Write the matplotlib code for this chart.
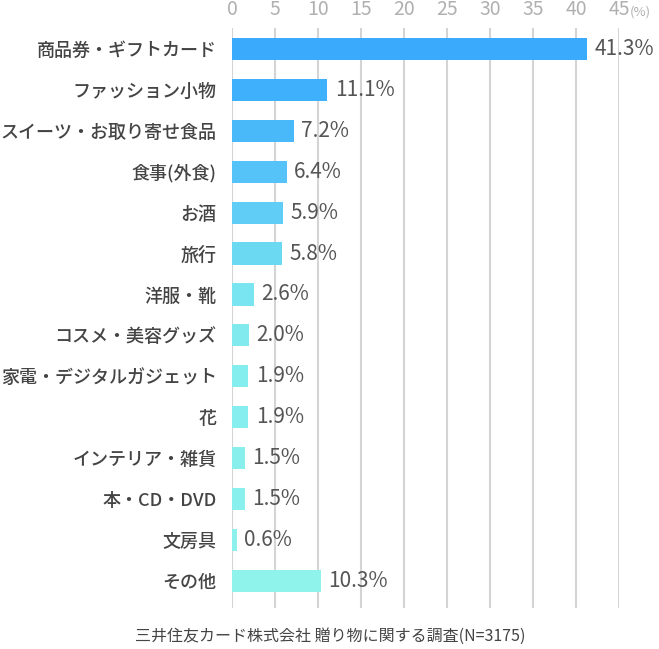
import matplotlib.pyplot as plt

plt.rcParams['font.family'] = ['Noto Sans CJK JP', 'DejaVu Sans']

# data
categories = [
    '商品券・ギフトカード', 'ファッション小物', 'スイーツ・お取り寄せ食品', '食事(外食)',
    'お酒', '旅行', '洋服・靴', 'コスメ・美容グッズ', '家電・デジタルガジェット',
    '花', 'インテリア・雑貨', '本・CD・DVD', '文房具', 'その他',
]
values = [41.3, 11.1, 7.2, 6.4, 5.9, 5.8, 2.6, 2.0, 1.9, 1.9, 1.5, 1.5, 0.6, 10.3]
bar_colors = [
    '#3aaafd', '#3fb0fc', '#4ab9fa', '#55c2f8', '#5fcdf5', '#6bd9f2', '#78e5f0',
    '#80eaef', '#84edee', '#86eeee', '#88efed', '#8af0ed', '#8cf1ed', '#8ff3ec',
]
xticks = list(range(0, 50, 5))
source = '三井住友カード株式会社 贈り物に関する調査(N=3175)'

fig = plt.figure(figsize=(6.59, 6.49), dpi=100)
ax = fig.add_axes([232 / 659, 41 / 649, 387 / 659, 580 / 649])

ypos = list(range(len(categories)))
ax.barh(ypos, values, height=0.54, color=bar_colors, zorder=2)

for y, v in zip(ypos, values):
    ax.text(v + 0.85, y, f'{v:.1f}%', va='center', ha='left',
            fontsize=15, color='#555555')

ax.set_xlim(0, 45)
ax.set_ylim(13.66, -0.51)
ax.set_xticks(xticks)
ax.xaxis.tick_top()
ax.tick_params(axis='x', length=0, pad=6, labelsize=14, labelcolor='#b0b0b0')
ax.set_yticks(ypos, categories)
ax.tick_params(axis='y', length=0, pad=11, labelsize=13, labelcolor='#444444')
for lbl in ax.get_yticklabels():
    lbl.set_fontweight('medium')
ax.grid(axis='x', color='#d4d4d4', linewidth=1.5, zorder=0)
for s in ax.spines.values():
    s.set_visible(False)

fig.text(640 / 659, 1 - 12 / 649, '(%)', ha='center', va='center',
         fontsize=9.5, color='#b0b0b0')
fig.text(330 / 659, 1 - 636 / 649, source, ha='center', va='center',
         fontsize=11.5, color='#444444')

fig.savefig('out.png', dpi=100)
